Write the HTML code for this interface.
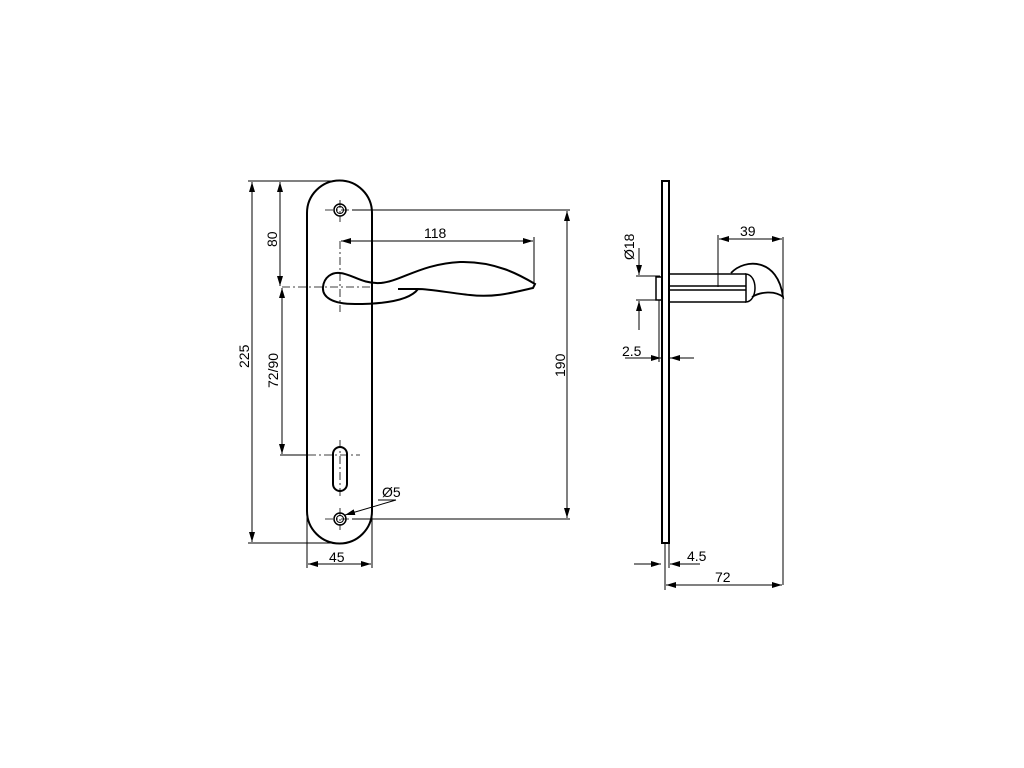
<!DOCTYPE html>
<html><head><style>body{margin:0;background:#fff}svg{display:block}text{font-family:"Liberation Sans",sans-serif;font-size:14px;fill:#000}</style></head><body>
<svg width="1024" height="768" viewBox="0 0 1024 768" xmlns="http://www.w3.org/2000/svg">
<defs>
<marker id="a" viewBox="0 0 10 6" refX="10" refY="3" markerWidth="10" markerHeight="6" orient="auto-start-reverse" markerUnits="userSpaceOnUse"><path d="M0,0 L10,3 L0,6 Z" fill="#000"/></marker>
</defs>
<g fill="none" stroke="#000">
<path d="M307,213 A32.5,32.5 0 0 1 372,213 L372,511 A32.5,32.5 0 0 1 307,511 Z" stroke-width="2"/>
<circle cx="340" cy="210" r="6" stroke-width="1.5"/><circle cx="340" cy="210" r="3.5"/>
<circle cx="340" cy="519" r="6" stroke-width="1.5"/><circle cx="340" cy="519" r="3.5"/>
<rect x="333" y="447" width="14" height="44" rx="7" stroke-width="2"/>
<g stroke-width="0.8" stroke-dasharray="8,3,2,3">
<line x1="325" y1="210" x2="355" y2="210"/><line x1="340" y1="200" x2="340" y2="222"/>
<line x1="325" y1="519" x2="355" y2="519"/><line x1="340" y1="508" x2="340" y2="530"/>
<line x1="340" y1="440" x2="340" y2="498"/><line x1="308" y1="455" x2="360" y2="455"/>
<line x1="282" y1="287" x2="372" y2="287"/><line x1="340" y1="241" x2="340" y2="312"/>
</g>
<path d="M418,289 L398,289 M418,289 C410,300 385,304 355,304 C332,304 322,297 323,287 C324,277 332,272 340,273 C352,274 362,284 380,283 C400,282 420,264 460,262 C495,261 520,275 535,284 L533,288 C515,292 495,298 470,295 C450,293 430,289 418,289 Z" stroke-width="2"/>
<g stroke-width="1">
<line x1="248" y1="181" x2="340" y2="181"/><line x1="248" y1="543" x2="335" y2="543"/>
<line x1="252" y1="182" x2="252" y2="542" marker-start="url(#a)" marker-end="url(#a)"/>
<line x1="280" y1="182" x2="280" y2="286" marker-start="url(#a)" marker-end="url(#a)"/>
<line x1="282" y1="288" x2="282" y2="454" marker-start="url(#a)" marker-end="url(#a)"/>
<line x1="280" y1="455" x2="308" y2="455"/>
<line x1="352" y1="210" x2="570" y2="210"/><line x1="352" y1="519" x2="570" y2="519"/>
<line x1="567" y1="211" x2="567" y2="518" marker-start="url(#a)" marker-end="url(#a)"/>
<line x1="341" y1="241" x2="533" y2="241" marker-start="url(#a)" marker-end="url(#a)"/>
<line x1="534" y1="237" x2="534" y2="284"/>
<line x1="307" y1="515" x2="307" y2="568"/><line x1="372" y1="511" x2="372" y2="568"/>
<line x1="308" y1="564" x2="371" y2="564" marker-start="url(#a)" marker-end="url(#a)"/>
<line x1="396" y1="500" x2="345" y2="515" marker-end="url(#a)"/><line x1="378" y1="500" x2="396" y2="500"/>
</g>
<rect x="662" y="181" width="7" height="362" stroke-width="2"/>
<rect x="656" y="277" width="6" height="23" stroke-width="1.5"/>
<path d="M669,274 L746,274 M669,302 L746,302 M669,286 L746,286 M669,290 L746,290" stroke-width="1.5"/>
<path d="M746,274 C758,275 758,301 746,302 Z" stroke-width="1.5"/>
<path d="M731,273 C745,258 778,258 783,297 C775,290 760,292 752,297" stroke-width="1.8"/>
<g stroke-width="1">
<line x1="718" y1="235" x2="718" y2="287"/><line x1="783" y1="237" x2="783" y2="585"/>
<line x1="719" y1="239" x2="782" y2="239" marker-start="url(#a)" marker-end="url(#a)"/>
<line x1="636" y1="276" x2="660" y2="276"/><line x1="636" y1="300" x2="660" y2="300"/>
<line x1="639" y1="248" x2="639" y2="275" marker-end="url(#a)"/>
<line x1="639" y1="330" x2="639" y2="301" marker-end="url(#a)"/>
<line x1="625" y1="358" x2="661" y2="358" marker-end="url(#a)"/>
<line x1="694" y1="358" x2="670" y2="358" marker-end="url(#a)"/>
<line x1="659" y1="300" x2="659" y2="362"/>
<line x1="634" y1="564" x2="661" y2="564" marker-end="url(#a)"/>
<line x1="700" y1="564" x2="670" y2="564" marker-end="url(#a)"/>
<line x1="665" y1="543" x2="665" y2="590"/><line x1="669" y1="543" x2="669" y2="568"/>
<line x1="666" y1="585" x2="782" y2="585" marker-start="url(#a)" marker-end="url(#a)"/>
</g>
</g>
<text x="424" y="238">118</text>
<text x="382" y="497">Ø5</text>
<text x="329" y="562">45</text>
<text x="740" y="236">39</text>
<text x="687" y="561">4.5</text>
<text x="715" y="582">72</text>
<text x="622" y="356">2.5</text>
<text transform="translate(249,368) rotate(-90)">225</text>
<text transform="translate(277,247) rotate(-90)">80</text>
<text transform="translate(278,388) rotate(-90)">72/90</text>
<text transform="translate(565,377) rotate(-90)">190</text>
<text transform="translate(634,260) rotate(-90)">Ø18</text>
</svg>
</body></html>
